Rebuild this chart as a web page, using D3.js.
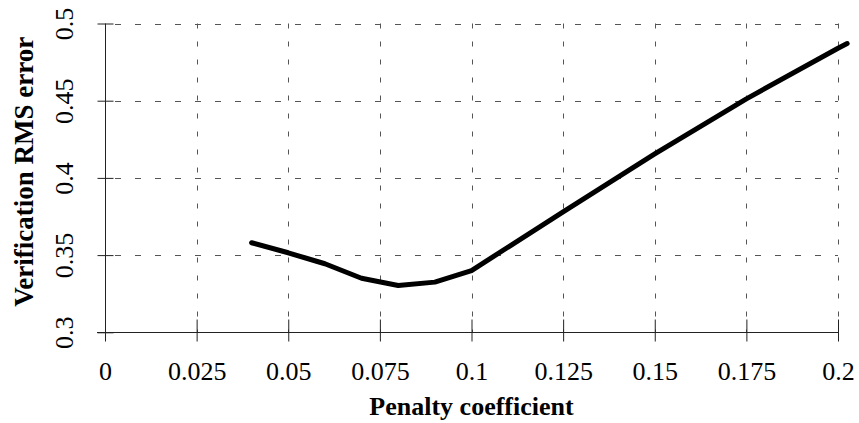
<!DOCTYPE html>
<html>
<head>
<meta charset="utf-8">
<script src="https://cdn.jsdelivr.net/npm/d3@7"></script>
<style>
  html, body { margin: 0; padding: 0; background: #fff; }
  svg { display: block; }
  svg text { font-family: "Liberation Serif", "Times New Roman", serif !important; fill: #000; }
</style>
</head>
<body>
<svg id="chart" width="859" height="423" font-family="Liberation Serif"></svg>
<script>
// ---- data ----
const penalty = [0.04, 0.05, 0.06, 0.07, 0.08, 0.09, 0.1, 0.125, 0.15, 0.175, 0.2, 0.2025];
const rmsError = [0.358, 0.3515, 0.3444, 0.335, 0.3303, 0.3325, 0.340, 0.378, 0.4155, 0.4512, 0.4840, 0.4870];
const xTickValues = [0, 0.025, 0.05, 0.075, 0.1, 0.125, 0.15, 0.175, 0.2];
const xTickLabels = ["0", "0.025", "0.05", "0.075", "0.1", "0.125", "0.15", "0.175", "0.2"];
const yTickValues = [0.3, 0.35, 0.4, 0.45, 0.5];
const yTickLabels = ["0.3", "0.35", "0.4", "0.45", "0.5"];
const xTitle = "Penalty coefficient";
const yTitle = "Verification RMS error";

// ---- layout ----
const svg = d3.select("#chart");
const L = 105, R = 838, T = 23.5, B = 332.3;
const x = d3.scaleLinear().domain([0, 0.2]).range([L, R]);
const y = d3.scaleLinear().domain([0.3, 0.5]).range([B, T]);

// grid
const grid = svg.append("g").attr("stroke", "#555").attr("stroke-width", 1).attr("fill", "none");
grid.selectAll("line.h").data(yTickValues.filter(v => v > 0.3)).join("line")
  .attr("class", "h")
  .attr("x1", L).attr("x2", R)
  .attr("y1", d => Math.round(y(d)) + 0.5).attr("y2", d => Math.round(y(d)) + 0.5)
  .attr("stroke-dasharray", "6,14").attr("stroke-dashoffset", -10);
grid.selectAll("line.v").data(xTickValues.filter(v => v > 0)).join("line")
  .attr("class", "v")
  .attr("x1", d => Math.round(x(d)) + 0.5).attr("x2", d => Math.round(x(d)) + 0.5)
  .attr("y1", T).attr("y2", B)
  .attr("stroke-dasharray", "5,13");

// x axis
const xAxis = d3.axisBottom(x).tickValues(xTickValues)
  .tickFormat((d, i) => xTickLabels[i]).tickSize(9).tickPadding(0);
const gx = svg.append("g").attr("transform", `translate(0,${Math.round(B) + 0.5})`).call(xAxis)
  .attr("font-family", "Liberation Serif").attr("font-size", 26);
gx.select(".domain").remove();
gx.append("line").attr("x1", L - 8).attr("x2", R).attr("y1", 0).attr("y2", 0)
  .attr("stroke", "#222").attr("stroke-width", 1);
gx.selectAll(".tick line").attr("y1", -13).attr("y2", 9).attr("stroke", "#222");
gx.selectAll(".tick text").attr("dy", null).attr("y", 47.5);

// y axis
const yAxis = d3.axisLeft(y).tickValues(yTickValues)
  .tickFormat((d, i) => yTickLabels[i]).tickSize(8).tickPadding(0);
const gy = svg.append("g").attr("transform", `translate(${L + 0.5},0)`).call(yAxis)
  .attr("font-family", "Liberation Serif").attr("font-size", 26);
gy.select(".domain").remove();
gy.append("line").attr("x1", 0).attr("x2", 0).attr("y1", T).attr("y2", B + 8)
  .attr("stroke", "#222").attr("stroke-width", 1);
gy.selectAll(".tick line").attr("x1", -8).attr("x2", 8).attr("stroke", "#222");
gy.selectAll(".tick text")
  .attr("text-anchor", "middle")
  .attr("x", null).attr("dy", null)
  .attr("transform", "translate(-33,0) rotate(-90)");

// series line
const line = d3.line().x((d, i) => x(penalty[i])).y(d => y(d));
svg.append("path")
  .datum(rmsError)
  .attr("d", line)
  .attr("fill", "none")
  .attr("stroke", "#000")
  .attr("stroke-width", 5)
  .attr("stroke-linejoin", "round")
  .attr("stroke-linecap", "round");

// titles
svg.append("text")
  .attr("x", (L + R) / 2).attr("y", 415)
  .attr("text-anchor", "middle")
  .attr("font-size", 26).attr("font-weight", "bold")
  .text(xTitle);
svg.append("text")
  .attr("transform", "translate(33,171.7) rotate(-90)")
  .attr("text-anchor", "middle")
  .attr("font-size", 27).attr("font-weight", "bold")
  .text(yTitle);
</script>
</body>
</html>
